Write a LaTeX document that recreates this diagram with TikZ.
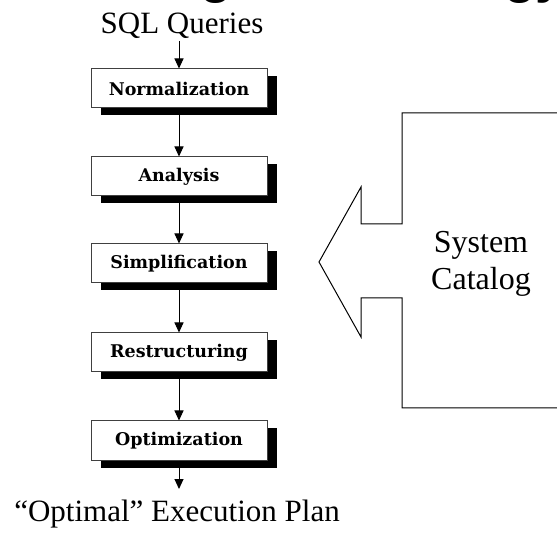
\documentclass[tikz,border=0pt]{standalone}
\usepackage{fontspec}
\setmainfont{Liberation Serif}
\newfontfamily\boxfont{DejaVu Serif}
\newfontfamily\titlefont{Liberation Sans}
\usetikzlibrary{arrows.meta}
\begin{document}
\begin{tikzpicture}[x=1pt,y=-1pt,
  stepbox/.style={draw=black!75, line width=1pt, fill=white, minimum width=176pt, minimum height=39pt, inner sep=0pt, font=\boxfont\bfseries\fontsize{17.5}{20}\selectfont},
  shadowbox/.style={fill=black, minimum width=176pt, minimum height=39pt, inner sep=0pt},
  flow/.style={line width=1pt, -{Triangle[width=9pt,length=10pt]}},
  bigtext/.style={font=\fontsize{31}{37}\selectfont},
  titletext/.style={inner sep=0pt, font=\titlefont\bfseries\fontsize{52}{60}\selectfont},
  outline/.style={line width=1pt, line join=miter}]
\useasboundingbox (0,0) rectangle (557,534);
\begin{scope}
\clip (0,0) rectangle (557,534);
\node[titletext, anchor=south east] (title1) at (232,4) {Processing};
\node[titletext, anchor=south east] (title2) at (565,4) {Methodology};
\end{scope}
% shadows
\foreach \n/\y in {s1/88.5, s2/176.5, s3/263.5, s4/352.5, s5/440.5}
  \node[shadowbox] (\n) at (189,\y+7.5) {};
% boxes
\node[stepbox] (norm) at (179,88.5) {Normalization};
\node[stepbox] (anal) at (179,176.5) {Analysis};
\node[stepbox] (simp) at (179,263.5) {Simplification};
\node[stepbox] (rest) at (179,352.5) {Restructuring};
\node[stepbox] (opti) at (179,440.5) {Optimization};
% texts
\node[bigtext, anchor=base, inner sep=0pt] (sql) at (182,34) {SQL Queries};
\node[bigtext, anchor=base, inner sep=0pt] (plan) at (177,521) {“Optimal” Execution Plan};
\coordinate (sqlend) at (179,41);
\coordinate (planend) at (179,489);
% connectors
\draw[flow] (sqlend) -- (norm.north);
\draw[flow] (norm.south) -- (anal.north);
\draw[flow] (anal.south) -- (simp.north);
\draw[flow] (simp.south) -- (rest.north);
\draw[flow] (rest.south) -- (opti.north);
\draw[flow] (opti.south) -- (planend);
% system catalog
\draw[outline] (560,113) -- (402,113) -- (402,224) -- (361,224) -- (361,187) -- (319,262)
  -- (361,337) -- (361,298) -- (402,298) -- (402,408) -- (560,408);
\node[font=\fontsize{32}{37}\selectfont, align=center, inner sep=0pt] (cat) at (481,264) {System\\Catalog};
\end{tikzpicture}
\end{document}
